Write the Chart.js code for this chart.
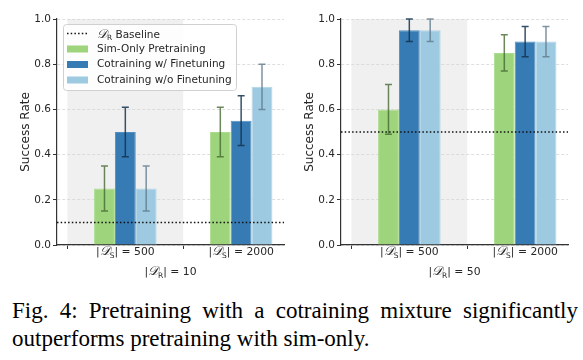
<!DOCTYPE html>
<html>
<head>
<meta charset="utf-8">
<script src="https://cdn.jsdelivr.net/npm/chart.js@4.4.1/dist/chart.umd.min.js"></script>
<style>
  body { margin: 0; background: #fff; width: 583px; height: 360px; position: relative; overflow: hidden; }
  #chartLeft { position: absolute; left: 0; top: 0; }
  #chartRight { position: absolute; left: 290px; top: 0; }
  .caption { position: absolute; left: 12px; top: 297px; width: 566px; font: 23px/28px "Liberation Serif", serif; text-align: justify; color: #000; }
</style>
</head>
<body>
<canvas id="chartLeft" width="290" height="285"></canvas>
<canvas id="chartRight" width="293" height="285"></canvas>
<div class="caption">Fig. 4: Pretraining with a cotraining mixture significantly outperforms pretraining with sim-only.</div>

<script>
// data
var simSizes = ['500', '2000'];          // |D_S| groups
var realSizes = ['10', '50'];            // |D_R| per panel
var baselines = [0.1, 0.5];              // D_R baseline per panel
var yTicks = [0, 0.2, 0.4, 0.6, 0.8, 1.0];

var simOnly10 = [0.25, 0.5];
var simOnly10Err = [0.1, 0.11];
var cotrainFt10 = [0.5, 0.55];
var cotrainFt10Err = [0.11, 0.11];
var cotrainNoFt10 = [0.25, 0.7];
var cotrainNoFt10Err = [0.1, 0.1];

var simOnly50 = [0.6, 0.85];
var simOnly50Err = [0.11, 0.08];
var cotrainFt50 = [0.95, 0.9];
var cotrainFt50Err = [0.05, 0.067];
var cotrainNoFt50 = [0.95, 0.9];
var cotrainNoFt50Err = [0.05, 0.067];

var seriesNames = ['Sim-Only Pretraining', 'Cotraining w/ Finetuning', 'Cotraining w/o Finetuning'];
var colors = ['rgb(157,212,124)', 'rgb(54,123,180)', 'rgb(158,202,225)'];
var edgeColors = ['rgb(172,220,143)', 'rgb(82,142,192)', 'rgb(176,212,231)'];
var errColors = ['rgba(70,105,50,0.8)', 'rgba(20,50,80,0.85)', 'rgba(95,120,138,0.8)'];

Chart.defaults.font.family = '"DejaVu Sans", sans-serif';
Chart.defaults.color = '#262626';

// draw "|D_S| = 500"-like text made of pieces
function drawMath(ctx, parts, x, y, size, align) {
    var fonts = {
        n: size + 'px "DejaVu Sans"',
        cal: 'italic ' + (size * 1.2) + 'px "DejaVu Serif"',
        sub: (size * 0.7) + 'px "DejaVu Sans"'
    };
    var total = 0;
    parts.forEach(function(p) {
        ctx.font = fonts[p[1]];
        p.w = ctx.measureText(p[0]).width;
        total += p.w;
    });
    var cx = align === 'left' ? x : x - total / 2;
    ctx.textBaseline = 'alphabetic';
    ctx.textAlign = 'left';
    parts.forEach(function(p) {
        ctx.font = fonts[p[1]];
        ctx.fillText(p[0], cx, y + (p[1] === 'sub' ? size * 0.25 : 0));
        cx += p.w;
    });
}

var shadePlugin = {
    id: 'shade',
    beforeDraw: function(chart, args, opts) {
        var ctx = chart.ctx, a = chart.chartArea, x = chart.scales.x;
        var l = x.getPixelForValue(-0.5), r = x.getPixelForValue(0.5);
        ctx.save();
        ctx.fillStyle = '#f0f0f0';
        ctx.fillRect(l, a.top, r - l, a.bottom - a.top);
        ctx.restore();
    }
};

var errorPlugin = {
    id: 'errorBars',
    afterDatasetsDraw: function(chart) {
        var ctx = chart.ctx, y = chart.scales.y;
        chart.data.datasets.forEach(function(ds, i) {
            var meta = chart.getDatasetMeta(i);
            meta.data.forEach(function(bar, j) {
                var v = ds.data[j].y, e = ds.errors[j];
                var top = y.getPixelForValue(v + e), bot = y.getPixelForValue(v - e);
                ctx.save();
                ctx.strokeStyle = ds.errColor;
                ctx.lineWidth = 1.5;
                ctx.beginPath();
                ctx.moveTo(bar.x, top); ctx.lineTo(bar.x, bot);
                ctx.moveTo(bar.x - 3.5, top); ctx.lineTo(bar.x + 3.5, top);
                ctx.moveTo(bar.x - 3.5, bot); ctx.lineTo(bar.x + 3.5, bot);
                ctx.stroke();
                ctx.restore();
            });
        });
    }
};

var baselinePlugin = {
    id: 'baseline',
    afterDatasetsDraw: function(chart, args, opts) {
        var ctx = chart.ctx, a = chart.chartArea;
        var yy = chart.scales.y.getPixelForValue(opts.value);
        ctx.save();
        ctx.strokeStyle = '#111';
        ctx.lineWidth = 1.5;
        ctx.setLineDash([1.5, 2.2]);
        ctx.beginPath();
        ctx.moveTo(a.left, yy); ctx.lineTo(a.right, yy);
        ctx.stroke();
        ctx.restore();
    }
};

var labelPlugin = {
    id: 'mathLabels',
    afterDraw: function(chart, args, opts) {
        var ctx = chart.ctx, a = chart.chartArea, x = chart.scales.x;
        ctx.save();
        ctx.fillStyle = '#262626';
        simSizes.forEach(function(s, i) {
            drawMath(ctx, [['|', 'n'], ['\u{1D49F}', 'cal'], ['S', 'sub'], ['| = ' + s, 'n']],
                x.getPixelForValue(i), a.bottom + 10, 10.8, 'center');
        });
        drawMath(ctx, [['|', 'n'], ['\u{1D49F}', 'cal'], ['R', 'sub'], ['| = ' + opts.real, 'n']],
            (a.left + a.right) / 2, a.bottom + 30, 10.8, 'center');
        ctx.restore();
    }
};

var legendPlugin = {
    id: 'boxLegend',
    afterDraw: function(chart, args, opts) {
        if (!opts.show) return;
        var ctx = chart.ctx, a = chart.chartArea;
        var bx = a.left + 6, by = a.top + 5, bw = 173, bh = 66;
        ctx.save();
        ctx.fillStyle = 'rgba(255,255,255,0.85)';
        ctx.strokeStyle = '#d0d0d0';
        ctx.lineWidth = 1;
        ctx.beginPath();
        ctx.roundRect(bx + 0.5, by + 0.5, bw, bh, 3);
        ctx.fill();
        ctx.stroke();
        var hx = bx + 4, tx = bx + 34;
        var rows = [by + 9.5, by + 25, by + 40.5, by + 56];
        // baseline entry
        ctx.strokeStyle = '#111';
        ctx.lineWidth = 1.5;
        ctx.setLineDash([1.5, 2.2]);
        ctx.beginPath();
        ctx.moveTo(hx, rows[0]); ctx.lineTo(hx + 21, rows[0]);
        ctx.stroke();
        ctx.setLineDash([]);
        ctx.fillStyle = '#262626';
        drawMath(ctx, [['\u{1D49F}', 'cal'], ['R', 'sub'], [' Baseline', 'n']], tx, rows[0] + 4, 10.5, 'left');
        seriesNames.forEach(function(name, i) {
            var ry = rows[i + 1];
            ctx.fillStyle = colors[i];
            ctx.fillRect(hx, ry - 3.5, 21, 7);
            ctx.fillStyle = '#262626';
            ctx.font = '10.5px "DejaVu Sans"';
            ctx.textBaseline = 'middle';
            ctx.fillText(name, tx, ry);
        });
        ctx.restore();
    }
};

function makeChart(id, series, errs, baseline, real, axisWidth, titlePad, rightPad, showLegend) {
    var datasets = series.map(function(vals, k) {
        return {
            label: seriesNames[k],
            data: vals.map(function(v, i) { return { x: i, y: v }; }),
            errors: errs[k],
            errColor: errColors[k],
            backgroundColor: colors[k],
            borderColor: edgeColors[k],
            borderWidth: 1,
            categoryPercentage: 0.54,
            barPercentage: 1.0
        };
    });
    return new Chart(document.getElementById(id), {
        type: 'bar',
        data: { datasets: datasets },
        plugins: [shadePlugin, errorPlugin, baselinePlugin, labelPlugin, legendPlugin],
        options: {
            responsive: false,
            animation: false,
            layout: { padding: { top: 19, right: rightPad, bottom: 0, left: 0 } },
            plugins: {
                legend: { display: false },
                tooltip: { enabled: false },
                baseline: { value: baseline },
                mathLabels: { real: real },
                boxLegend: { show: showLegend }
            },
            scales: {
                x: {
                    type: 'linear',
                    offset: false,
                    min: -0.59,
                    max: 1.37,
                    afterBuildTicks: function(s) { s.ticks = simSizes.map(function(_, i) { return { value: i }; }); },
                    afterFit: function(s) { s.height = 40; },
                    ticks: { callback: function() { return ''; }, padding: 0 },
                    grid: { drawOnChartArea: false, drawTicks: true, tickLength: 4, tickColor: '#333', tickWidth: 1, tickBorderDash: [] },
                    border: { display: true, color: '#333', width: 1.2 }
                },
                y: {
                    min: 0,
                    max: 1,
                    afterBuildTicks: function(s) { s.ticks = yTicks.map(function(v) { return { value: v }; }); },
                    afterFit: function(s) { s.width = axisWidth; },
                    ticks: {
                        font: { size: 10.5 },
                        padding: 2,
                        callback: function(v) { return v.toFixed(1); }
                    },
                    grid: { color: '#d6d6d6', lineWidth: 0.8, tickLength: 4, tickColor: '#333', tickWidth: 1, tickBorderDash: [] },
                    border: { display: true, color: '#333', width: 1.2, dash: [3, 2] },
                    title: {
                        display: true,
                        text: 'Success Rate',
                        font: { size: 12 },
                        padding: { top: titlePad, bottom: 0 }
                    }
                }
            }
        }
    });
}

makeChart('chartLeft', [simOnly10, cotrainFt10, cotrainNoFt10], [simOnly10Err, cotrainFt10Err, cotrainNoFt10Err],
    baselines[0], realSizes[0], 57, 19, 6, true);
makeChart('chartRight', [simOnly50, cotrainFt50, cotrainNoFt50], [simOnly50Err, cotrainFt50Err, cotrainNoFt50Err],
    baselines[1], realSizes[1], 51, 13, 15, false);
</script>
</body>
</html>
